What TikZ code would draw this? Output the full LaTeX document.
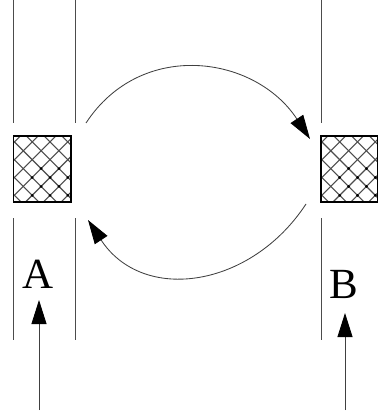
\documentclass[tikz,border=0pt]{standalone}
\usepackage{fontspec}
\setmainfont{Liberation Serif}
\usetikzlibrary{arrows.meta}
\begin{document}
\begin{tikzpicture}[x=1pt,y=-1pt,
  wall/.style={line width=0.8pt, black!70},
  flow/.style={line width=0.85pt, black!75,
    -{Triangle[length=24pt,width=15pt,color=black]}},
  label/.style={font=\fontsize{43}{43}\selectfont, inner sep=0pt},
  hatchbox/.style={minimum width=57pt, minimum height=65pt, inner sep=0pt,
    path picture={
      \begin{scope}[shift={(path picture bounding box.north west)}]
        \foreach \k in {-6,...,8} {
          \draw[line width=1.1pt, black!70]
            (8+17.8*\k-100, 8.5-100) -- ++(200,200);
          \draw[line width=1.1pt, black!70]
            (8+17.8*\k-100, 8.5+100) -- ++(200,-200);
        }
        \foreach \i in {-1,...,4} {
          \foreach \j in {-1,...,8} {
            \pgfmathsetmacro{\dx}{8+17.8*\i+8.9*mod(\j+2,2)}
            \fill[black] (\dx, 8.5+8.9*\j) circle (1.5pt);
          }
        }
      \end{scope}
    }},
  frame/.style={line width=1.6pt, black}]
\useasboundingbox (0,0) rectangle (377,414);

% channel walls
\draw[wall] (13,0) -- (13,123);
\draw[wall] (75,0) -- (75,123);
\draw[wall] (321,0) -- (321,123);
\draw[wall] (13,218) -- (13,340);
\draw[wall] (75,218) -- (75,340);
\draw[wall] (321,218) -- (321,340);

% hatched blocks
\node[hatchbox] (boxA) at (42,169) {};
\node[hatchbox] (boxB) at (349.5,169) {};
\draw[frame] (boxA.north west) rectangle (boxA.south east);
\draw[frame] (boxB.north west) rectangle (boxB.south east);

% labels
\node[label] (labA) at (38,274) {A};
\node[label] (labB) at (344,284) {B};

% incoming arrows
\coordinate (inA) at (39,410);
\coordinate (inB) at (345,410);
\coordinate (tipA) at (39,300);
\coordinate (tipB) at (345,313);
\draw[flow] (inA) -- (tipA);
\draw[flow] (inB) -- (tipB);

% exchange arcs
\coordinate (tS) at (86,123);
\coordinate (tE) at (310,139);
\coordinate (bS) at (306,204);
\coordinate (bE) at (88,220);
\draw[flow] (tS) .. controls (141,39) and (255,55) .. (tE);
\draw[flow] (bS) .. controls (251,288) and (143,304) .. (bE);
\end{tikzpicture}
\end{document}
